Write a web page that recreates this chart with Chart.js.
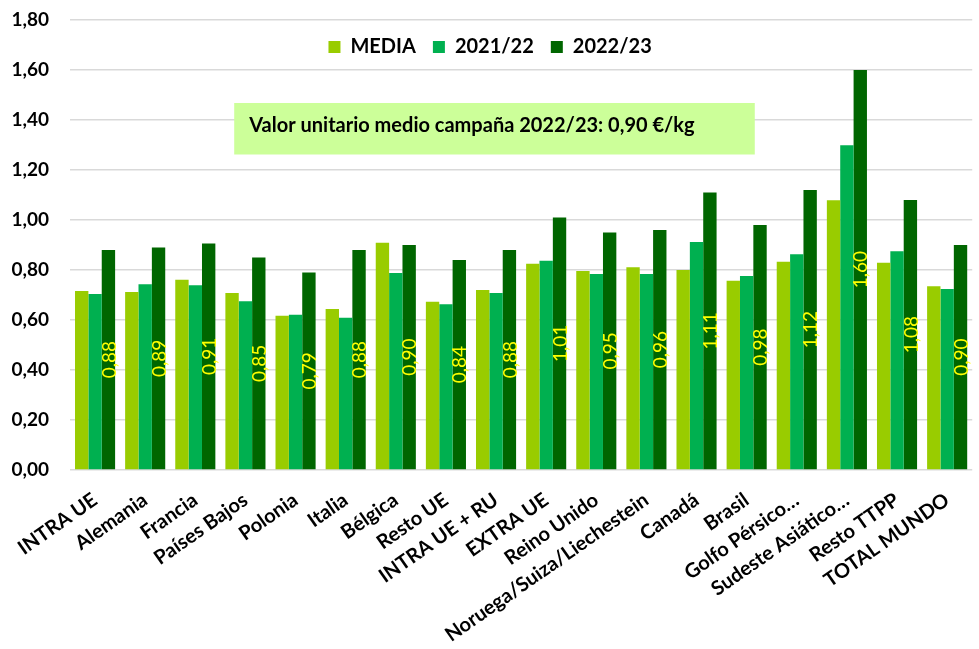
<!DOCTYPE html>
<html>
<head>
<meta charset="utf-8">
<script src="https://cdn.jsdelivr.net/npm/chart.js@4/dist/chart.umd.min.js"></script>
<style>
  html, body { margin: 0; padding: 0; background: #fff; }
  #wrap { width: 979px; height: 649px; position: relative; }
</style>
</head>
<body>
<div id="wrap"><canvas id="c" width="979" height="649"></canvas></div>
<script>
const categories = ["INTRA UE", "Alemania", "Francia", "Países Bajos", "Polonia", "Italia", "Bélgica", "Resto UE", "INTRA UE + RU", "EXTRA UE", "Reino Unido", "Noruega/Suiza/Liechestein", "Canadá", "Brasil", "Golfo Pérsico…", "Sudeste Asiático…", "Resto TTPP", "TOTAL MUNDO"];
const seriesNames = ["MEDIA", "2021/22", "2022/23"];
const media = [0.716, 0.712, 0.761, 0.708, 0.617, 0.644, 0.909, 0.673, 0.720, 0.825, 0.796, 0.811, 0.800, 0.757, 0.833, 1.079, 0.829, 0.735];
const camp2122 = [0.704, 0.743, 0.739, 0.675, 0.621, 0.609, 0.788, 0.663, 0.708, 0.837, 0.784, 0.784, 0.912, 0.776, 0.863, 1.299, 0.875, 0.724];
const camp2223 = [0.88, 0.89, 0.906, 0.85, 0.79, 0.88, 0.90, 0.84, 0.88, 1.01, 0.95, 0.96, 1.11, 0.98, 1.12, 1.60, 1.08, 0.90];
const yTicks = [0, 0.2, 0.4, 0.6, 0.8, 1.0, 1.2, 1.4, 1.6, 1.8];
const noteText = "Valor unitario medio campaña 2022/23: 0,90 €/kg";

const colors = ["#99CC00", "#00B050", "#006600"];
const fmt = v => v.toFixed(2).replace(".", ",");

const barLabels = {
  id: "barLabels",
  afterDatasetsDraw(chart) {
    const ctx = chart.ctx;
    const meta = chart.getDatasetMeta(2);
    ctx.save();
    ctx.font = "19px Lato";
    ctx.fillStyle = "#FFFF00";
    ctx.textAlign = "center";
    ctx.textBaseline = "middle";
    meta.data.forEach((el, i) => {
      const yMid = (el.y + el.base) / 2;
      ctx.save();
      ctx.translate(el.x, yMid);
      ctx.rotate(-Math.PI / 2);
      ctx.fillText(fmt(camp2223[i]), 0, 1);
      ctx.restore();
    });
    ctx.restore();
  }
};

const noteBox = {
  id: "noteBox",
  beforeDatasetsDraw(chart) {
    const ctx = chart.ctx;
    const xs = chart.scales.x, ys = chart.scales.y;
    const l = xs.getPixelForDecimal(0.182), r = xs.getPixelForDecimal(0.759);
    const t = ys.getPixelForValue(1.468), b = ys.getPixelForValue(1.262);
    ctx.save();
    ctx.fillStyle = "#CCFF99";
    ctx.fillRect(l, t, r - l, b - t);
    ctx.fillStyle = "#000";
    ctx.font = "bold 20px Lato";
    ctx.textAlign = "left";
    ctx.textBaseline = "middle";
    ctx.fillText(noteText, l + 15, (t + b) / 2 - 3);
    ctx.restore();
  }
};

const legendInArea = {
  id: "legendInArea",
  beforeLayout(chart) {
    if (chart.legend) chart.legend.isHorizontal = () => true;
  },
  afterLayout(chart) {
    const lg = chart.legend;
    if (lg) {
      lg.left = chart.chartArea.left - 31;
      lg.right = chart.chartArea.right - 31;
    }
  }
};

new Chart(document.getElementById("c"), {
  type: "bar",
  data: {
    labels: categories,
    datasets: [
      { label: seriesNames[0], data: media, backgroundColor: colors[0] },
      { label: seriesNames[1], data: camp2122, backgroundColor: colors[1] },
      { label: seriesNames[2], data: camp2223, backgroundColor: colors[2] }
    ]
  },
  options: {
    responsive: false,
    animation: false,
    devicePixelRatio: 1,
    layout: { padding: { top: 20, right: 3, left: 0, bottom: 0 } },
    datasets: { bar: { categoryPercentage: 0.8, barPercentage: 1.0, borderWidth: 0 } },
    plugins: {
      legend: {
        position: "chartArea",
        align: "center",
        labels: {
          boxWidth: 12, boxHeight: 12, padding: 17,
          color: "#000",
          font: { family: "Lato", size: 20, weight: "bold" }
        }
      },
      tooltip: { enabled: false }
    },
    scales: {
      x: {
        grid: { display: false, drawTicks: false },
        border: { display: false },
        ticks: {
          autoSkip: false, maxRotation: 35, minRotation: 35, padding: 18,
          color: "#000",
          font: { family: "Lato", size: 20, weight: "bold" }
        },
        afterFit(s) { s.height = 179; }
      },
      y: {
        min: 0, max: 1.8,
        afterBuildTicks(s) { s.ticks = yTicks.map(v => ({ value: v })); },
        grid: { color: "#D9D9D9", lineWidth: 1.5, drawTicks: false },
        border: { display: false },
        ticks: {
          padding: 21, color: "#000",
          font: { family: "Lato", size: 19, weight: "bold" },
          callback: v => fmt(v)
        },
        afterFit(s) { s.width = 70; s.paddingTop = 0; s.paddingBottom = 0; }
      }
    }
  },
  plugins: [noteBox, barLabels, legendInArea]
});
</script>
</body>
</html>
